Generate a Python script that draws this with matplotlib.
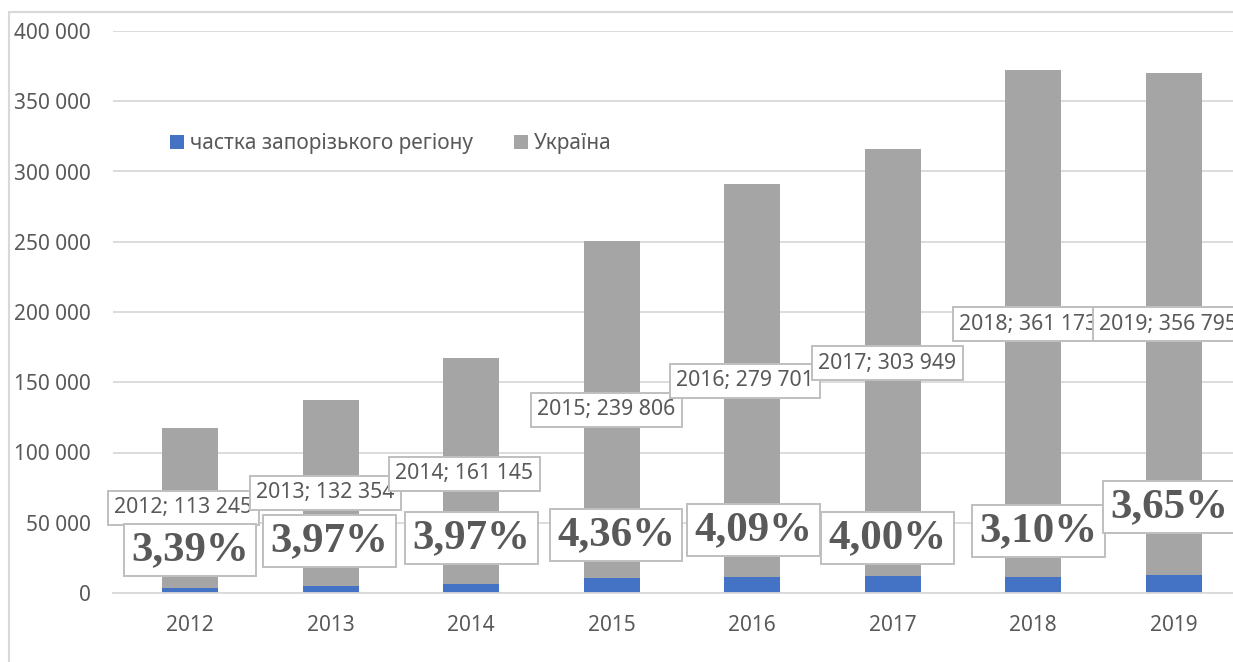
import matplotlib
matplotlib.use("Agg")
import matplotlib.pyplot as plt
from matplotlib.patches import Rectangle, Patch

# ---- data ----
years = ["2012", "2013", "2014", "2015", "2016", "2017", "2018", "2019"]
region_share = [3839, 5254, 6397, 10456, 11440, 12158, 11196, 13023]
ukraine = [113245, 132354, 161145, 239806, 279701, 303949, 361173, 356795]
pct_labels = ["3,39%", "3,97%", "3,97%", "4,36%", "4,09%", "4,00%", "3,10%", "3,65%"]
value_labels = ["2012; 113 245", "2013; 132 354", "2014; 161 145", "2015; 239 806",
                "2016; 279 701", "2017; 303 949", "2018; 361 173", "2019; 356 795"]
series_names = ["частка запорізького регіону", "Україна"]
yticks = [0, 50000, 100000, 150000, 200000, 250000, 300000, 350000, 400000]

# ---- label placement (styling: offsets in x units, y in data units) ----
val_dx = [-0.05, -0.04, -0.05, -0.04, -0.05, -0.04, -0.035, -0.04]
val_y = [60500, 71200, 84700, 130250, 150900, 163700, 191450, 191450]
pct_dx = [0.0, -0.01, 0.0, 0.03, 0.01, -0.035, 0.04, -0.035]
pct_y = [30600, 37000, 39150, 41280, 44840, 39150, 44130, 61210]

BLUE = "#4472C4"
GRAY = "#A5A5A5"
TXT = "#595959"
GRID = "#D9D9D9"

plt.rcParams['font.family'] = ['Noto Sans', 'DejaVu Sans']

W, H = 1233, 662
fig = plt.figure(figsize=(W / 100, H / 100), dpi=100)
fig.patch.set_facecolor("white")

# outer chart frame
fig.patches.append(Rectangle((9 / W, -0.05), 1.1, 1 - 12 / H + 0.05,
                             transform=fig.transFigure, fill=False,
                             edgecolor=GRID, linewidth=1.5, zorder=0))

ax = fig.add_axes([113 / W, 1 - 593 / H, 1131 / W, 562 / H])
x = list(range(len(years)))
bw = 0.4
ax.bar(x, region_share, width=bw, color=BLUE, zorder=2, label=series_names[0])
ax.bar(x, ukraine, width=bw, bottom=region_share, color=GRAY, zorder=2,
       label=series_names[1])

ax.set_xlim(-0.55, 7.5)
ax.set_ylim(0, 400000)
ax.set_yticks(yticks)
ax.set_yticklabels([f"{v:,}".replace(",", " ") for v in yticks])
ax.set_xticks(x)
ax.set_xticklabels(years)
ax.tick_params(axis='y', length=0, pad=16, labelsize=15, labelcolor=TXT)
ax.tick_params(axis='x', length=0, pad=16, labelsize=15, labelcolor=TXT)
ax.grid(axis='y', color=GRID, linewidth=1.3, zorder=0)
ax.set_axisbelow(True)
for s in ["left", "right", "top"]:
    ax.spines[s].set_visible(False)
ax.spines["bottom"].set_color(GRID)
ax.spines["bottom"].set_linewidth(1.3)

# value labels
for i in x:
    ax.text(i + val_dx[i], val_y[i], value_labels[i], ha="center", va="center",
            fontsize=15.3, color=TXT, zorder=5 + i,
            bbox=dict(boxstyle="square,pad=0.3", facecolor="white",
                      edgecolor="#BFBFBF", linewidth=1.4))

# percent labels
for i in x:
    ax.text(i + pct_dx[i], pct_y[i], pct_labels[i], ha="center", va="center",
            fontsize=31, fontweight="bold", color=TXT, zorder=20 + i,
            family=["Liberation Serif", "DejaVu Serif"],
            bbox=dict(boxstyle="square,pad=0.17", facecolor="white",
                      edgecolor="#BFBFBF", linewidth=1.4))

# legend
handles = [Patch(facecolor=BLUE), Patch(facecolor=GRAY)]
fig.legend(handles, series_names, loc="center left",
           bbox_to_anchor=(170 / W, 1 - 144 / H), ncol=2, frameon=False,
           borderpad=0, borderaxespad=0, handlelength=0.65, handleheight=0.65,
           handletextpad=0.3, columnspacing=2.0, fontsize=15, labelcolor=TXT)

fig.savefig("out.png", dpi=100, facecolor="white")
